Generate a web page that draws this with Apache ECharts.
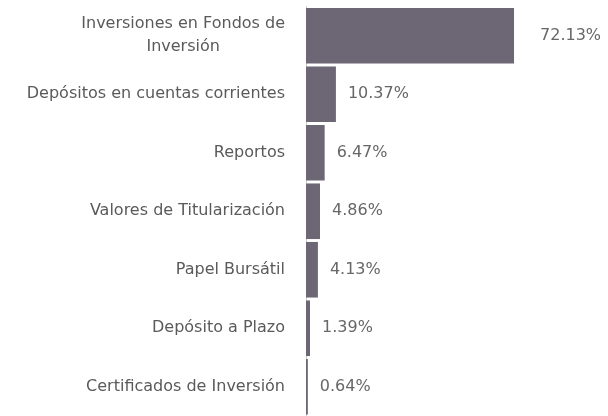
<!DOCTYPE html>
<html>
<head>
<meta charset="utf-8">
<script src="https://cdn.jsdelivr.net/npm/echarts@6/dist/echarts.min.js"></script>
<style>
  html, body { margin: 0; padding: 0; background: #fff; }
  #chart { width: 608px; height: 416px; }
</style>
</head>
<body>
<div id="chart"></div>
<script>
const categories = [
  'Inversiones en Fondos de\nInversión',
  'Depósitos en cuentas corrientes',
  'Reportos',
  'Valores de Titularización',
  'Papel Bursátil',
  'Depósito a Plazo',
  'Certificados de Inversión'
]
const values = [72.13, 10.37, 6.47, 4.86, 4.13, 1.39, 0.64]

const textColor = '#5a5a5a'
const barColor = '#6d6674'
const font = '"DejaVu Sans", sans-serif'

let chart = echarts.init(document.getElementById('chart'))

const option = {
  animation: false,
  grid: {
    left: 306,
    right: 13.6,
    top: 6.5,
    bottom: -5
  },
  xAxis: {
    type: 'value',
    min: 0,
    max: 100,
    show: false
  },
  yAxis: {
    type: 'category',
    inverse: true,
    data: categories,
    axisLine: { show: true, lineStyle: { color: '#cccccc', width: 1 } },
    axisTick: { show: false },
    axisLabel: {
      margin: 21,
      fontFamily: font,
      fontSize: 16,
      color: textColor,
      formatter(val) {
        return val.split('\n').map(s => '{c|' + s + '}').join('\n')
      },
      rich: {
        c: {
          align: 'center',
          fontFamily: font,
          fontSize: 16,
          color: textColor,
          lineHeight: 23
        }
      }
    }
  },
  series: [
    {
      type: 'bar',
      barCategoryGap: '5%',
      data: values.map((v, i) => ({
        value: v,
        label: i === 0 ? { distance: 26 } : undefined
      })),
      itemStyle: { color: barColor },
      label: {
        show: true,
        position: 'right',
        distance: 12,
        fontFamily: font,
        fontSize: 16,
        color: '#676767',
        formatter(p) {
          return p.value.toFixed(2) + '%'
        }
      }
    }
  ]
}

chart.setOption(option)
</script>
</body>
</html>
